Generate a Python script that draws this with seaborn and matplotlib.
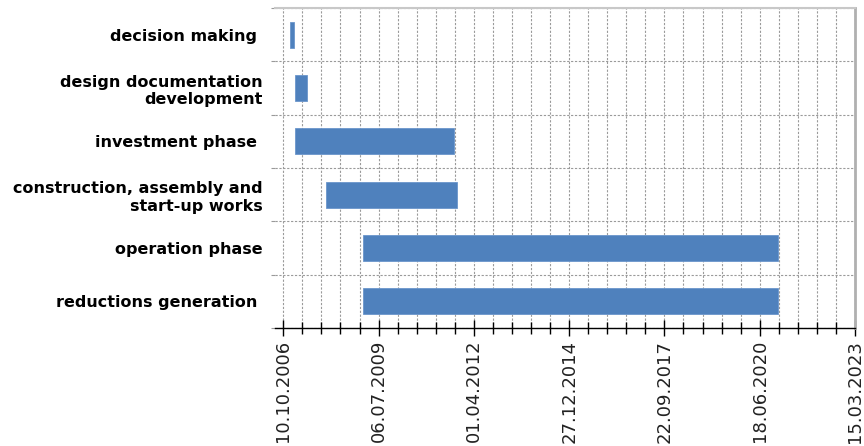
import matplotlib
matplotlib.use("Agg")
import numpy as np
import pandas as pd
import seaborn as sns
import matplotlib.pyplot as plt
import matplotlib.dates as mdates
from matplotlib.ticker import FixedLocator, NullFormatter

# ---- data ----
tasks = [
    "decision making ",
    "design documentation\ndevelopment",
    "investment phase ",
    "construction, assembly and\nstart-up works",
    "operation phase",
    "reductions generation ",
]
starts = ["2006-12-19", "2007-02-13", "2007-02-13", "2008-01-01", "2009-01-20", "2009-01-20"]
ends = ["2007-01-30", "2007-06-12", "2011-09-08", "2011-10-10", "2020-12-29", "2020-12-29"]
tick_labels = ["10.10.2006", "06.07.2009", "01.04.2012", "27.12.2014",
               "22.09.2017", "18.06.2020", "15.03.2023"]

start_num = mdates.date2num(pd.to_datetime(starts))
end_num = mdates.date2num(pd.to_datetime(ends))
df = pd.DataFrame({"task": tasks, "start": start_num, "duration": end_num - start_num})

major_num = mdates.date2num(pd.to_datetime(tick_labels, format="%d.%m.%Y"))
step = (major_num[1] - major_num[0]) / 5.0
minor_num = np.arange(major_num[0], major_num[-1] + 1, step)

sns.set_theme(style="white")
plt.rcParams["font.family"] = ["DejaVu Sans"]

fig = plt.figure(figsize=(8.64, 4.46), dpi=100)
ax = fig.add_axes([275 / 864, 1 - 328 / 446, (855 - 275) / 864, (328 - 8) / 446])

sns.barplot(data=df, x="duration", y="task", orient="y", left=df["start"].values,
            width=0.49, color="#4F81BD", saturation=1, edgecolor="#6b96cc",
            linewidth=0.6, ax=ax, zorder=3)

ax.set_xlabel("")
ax.set_ylabel("")
ax.set_xlim(major_num[0] - 87, major_num[-1])
ax.set_ylim(len(tasks) - 0.5, -0.5)

# x axis ticks
ax.xaxis.set_major_locator(FixedLocator(major_num))
ax.xaxis.set_minor_locator(FixedLocator(minor_num))
ax.set_xticklabels(tick_labels, rotation=90, fontsize=13, color="#222222")
ax.xaxis.set_minor_formatter(NullFormatter())
ax.tick_params(axis="x", which="major", direction="inout", length=11, width=1, color="black", pad=3, bottom=True)
ax.tick_params(axis="x", which="minor", direction="inout", length=8, width=1, color="black", bottom=True)

# y axis ticks
ax.yaxis.set_minor_locator(FixedLocator(np.arange(-0.5, len(tasks), 1.0)))
ax.tick_params(axis="y", which="major", length=0, pad=9, labelsize=11.5, labelcolor="black")
ax.tick_params(axis="y", which="minor", direction="out", length=3, width=0.8, color="#999999", left=True)
for lbl in ax.get_yticklabels():
    lbl.set_fontweight("bold")

# grids
grid_kw = dict(color="#9a9a9a", linestyle=(0, (2, 1.5)), linewidth=0.8)
ax.xaxis.grid(True, which="both", **grid_kw)
ax.yaxis.grid(True, which="minor", **grid_kw)
ax.yaxis.grid(False, which="major")
ax.set_axisbelow(True)

# spines
ax.spines["left"].set_visible(False)
ax.spines["top"].set_color("#c8c8c8")
ax.spines["top"].set_linewidth(1.5)
ax.spines["right"].set_color("#b0b0b0")
ax.spines["right"].set_linewidth(2)
ax.spines["bottom"].set_color("black")
ax.spines["bottom"].set_linewidth(1)

fig.savefig("out.png", dpi=100)
